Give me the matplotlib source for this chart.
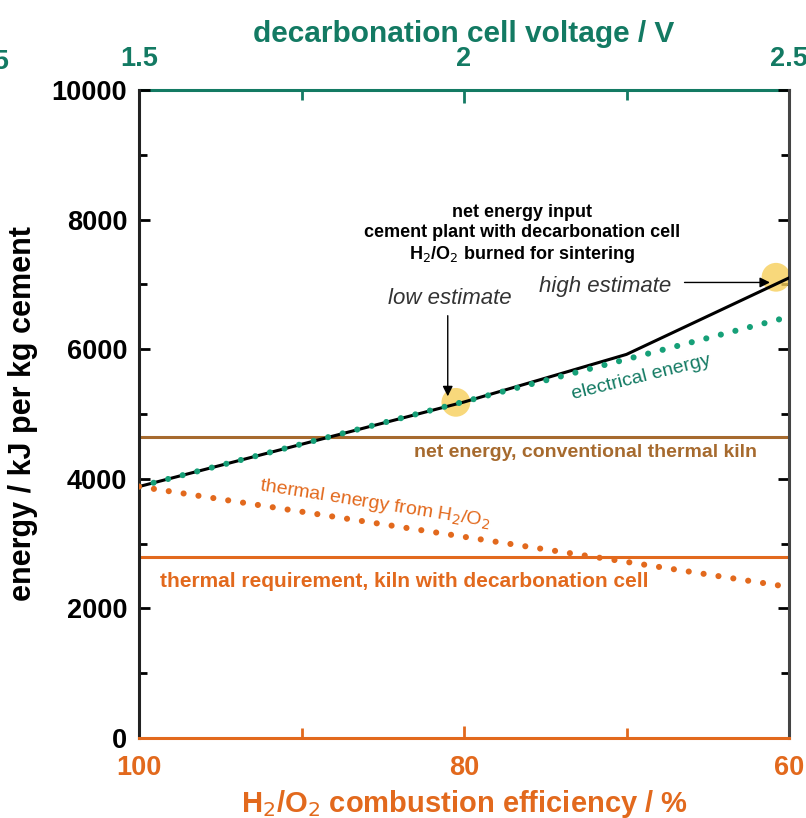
import numpy as np
import matplotlib.pyplot as plt

plt.rcParams['font.family'] = ['Liberation Sans', 'DejaVu Sans']

teal = '#137a63'
orange = '#e2691d'
brown = '#a66a2e'
circle_col = '#f7cf5a'

# data (x = H2/O2 combustion efficiency in %)
elec_eff = [100, 60]
elec_energy = [3880, 6500]
th_eff = [100, 60]
th_energy = [3880, 2330]
net_eff = [100, 80, 70, 60]
net_energy = [3880, 5185, 5920, 7100]
conventional_kiln = 4645
thermal_req = 2790
est_eff = [80.5, 60.8]
est_energy = [5180, 7110]


def eff_to_volt(e):
    return 1.5 + (100 - np.asarray(e)) / 40.0


def volt_to_eff(v):
    return 100 - (np.asarray(v) - 1.5) * 40.0


fig = plt.figure(figsize=(8.06, 8.18), dpi=100)
ax = fig.add_axes([139 / 806, 80 / 818, 650 / 806, 648 / 818])

ax.axhline(conventional_kiln, color=brown, lw=2.2, zorder=2)
ax.axhline(thermal_req, color=orange, lw=2.2, zorder=2)

ax.scatter(est_eff, est_energy, s=430, color=circle_col, alpha=0.8,
           edgecolors='none', zorder=2.5)

ax.plot(net_eff, net_energy, color='black', lw=2.2, zorder=3)
ax.plot(elec_eff, elec_energy, color='#16a078', lw=4.4, ls=(0, (0.01, 2.45)),
        dash_capstyle='round', zorder=4)
ax.plot(th_eff, th_energy, color=orange, lw=4.4, ls=(0, (0.01, 2.45)),
        dash_capstyle='round', zorder=4)

ax.set_xlim(100, 60)
ax.set_ylim(0, 10000)
ax.set_yticks(np.arange(0, 10001, 2000))
ax.set_yticks(np.arange(1000, 10000, 2000), minor=True)
ax.set_xticks([100, 80, 60])
ax.set_xticks([90, 70], minor=True)

ax.tick_params(axis='y', which='both', direction='in', right=True,
               labelsize=19.5, colors='black', width=2, pad=8.5)
ax.tick_params(axis='y', which='major', length=8)
ax.tick_params(axis='y', which='minor', length=6)
ax.tick_params(axis='x', which='both', direction='in', top=False,
               labelsize=19.5, colors=orange, width=2, pad=12)
ax.tick_params(axis='x', which='major', length=9)
ax.tick_params(axis='x', which='minor', length=7)
for lab in ax.get_xticklabels() + ax.get_yticklabels():
    lab.set_fontweight('bold')

ax.spines['left'].set_color('#222222')
ax.spines['right'].set_color('#444444')
ax.spines['bottom'].set_color(orange)
ax.spines['top'].set_visible(False)
for s in ['left', 'right', 'bottom']:
    ax.spines[s].set_linewidth(2.2)

sec = ax.secondary_xaxis('top', functions=(eff_to_volt, volt_to_eff))
sec.set_xticks([1.5, 2, 2.5])
sec.set_xticks([1.75, 2.25], minor=True)
sec.xaxis.set_major_formatter(plt.FuncFormatter(lambda v, p: '%g' % v))
sec.tick_params(axis='x', which='both', direction='in', labelsize=19.5,
                colors=teal, width=2, pad=13)
sec.tick_params(axis='x', which='major', length=9)
sec.tick_params(axis='x', which='minor', length=7)
sec.spines['top'].set_color(teal)
sec.spines['top'].set_linewidth(2.2)
for lab in sec.get_xticklabels():
    lab.set_fontweight('bold')
sec.set_xlabel('decarbonation cell voltage / V', fontsize=21.5,
               fontweight='bold', color=teal, labelpad=3)

ax.set_xlabel('H$_2$/O$_2$ combustion efficiency / %', fontsize=21,
              fontweight='bold', color=orange, labelpad=5)
ax.set_ylabel('energy / kJ per kg cement', fontsize=22, fontweight='bold',
              color='black', labelpad=10)

ax.text(76.4, 7770, 'net energy input\ncement plant with decarbonation cell\n'
        'H$_2$/O$_2$ burned for sintering', ha='center', va='center',
        fontsize=13, fontweight='bold', linespacing=1.2, zorder=6)

ax.text(80.9, 6780, 'low estimate', ha='center', va='center', fontsize=16,
        style='italic', color='#333333')
ax.annotate('', xy=(81.0, 5230), xytext=(81.0, 6560),
            arrowprops=dict(arrowstyle='-|>', color='black', lw=1.0,
                            mutation_scale=15), zorder=6)
ax.text(71.3, 6975, 'high estimate', ha='center', va='center', fontsize=16,
        style='italic', color='#333333')
ax.annotate('', xy=(61.0, 7030), xytext=(66.6, 7030),
            arrowprops=dict(arrowstyle='-|>', color='black', lw=1.0,
                            mutation_scale=15), zorder=6)

ax.text(69.1, 5560, 'electrical energy', ha='center', va='center',
        fontsize=14, color=teal, rotation=14)
ax.text(72.5, 4410, 'net energy, conventional thermal kiln', ha='center',
        va='center', fontsize=14, fontweight='bold', color=brown)
ax.text(85.5, 3610, 'thermal energy from H$_2$/O$_2$', ha='center',
        va='center', fontsize=14, color=orange, rotation=-9)
ax.text(83.7, 2420, 'thermal requirement, kiln with decarbonation cell',
        ha='center', va='center', fontsize=15, fontweight='bold', color=orange)

# clipped label of a neighbouring panel at the left edge
fig.text(9 / 806, 1 - 62 / 818, '2.5', ha='right', va='center', fontsize=19.5,
         fontweight='bold', color=teal)

fig.savefig('out.png', dpi=100)
